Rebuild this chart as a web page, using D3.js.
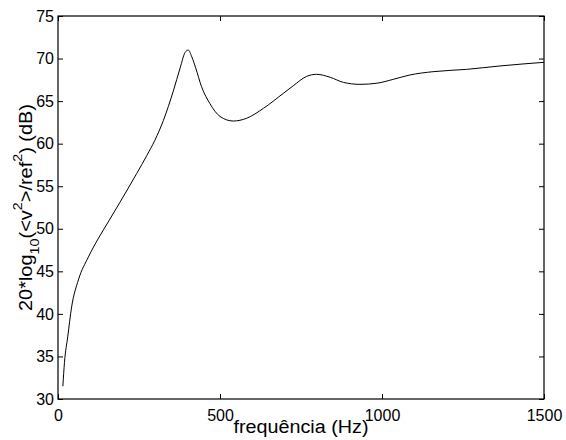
<!DOCTYPE html>
<html>
<head>
<meta charset="utf-8">
<script src="https://cdn.jsdelivr.net/npm/d3@7"></script>
<style>
  body { margin: 0; background: #fff; }
  text { font-family: "Liberation Sans", Arial, sans-serif; }
</style>
</head>
<body>
<svg id="chart-area"></svg>
<script>
const freq = [15, 20, 30, 42, 63, 94, 125, 155, 191, 243, 274, 299, 325, 356, 377, 392, 402, 413, 425, 443, 469, 500, 541, 582, 634, 695, 726, 767, 798, 840, 881, 932, 984, 1035, 1086, 1158, 1261, 1364, 1500]
const level = [31.5, 34.3, 37.3, 40.8, 44.0, 46.7, 48.9, 50.8, 53.1, 56.5, 58.6, 60.4, 62.7, 66.2, 68.9, 70.7, 71.0, 70.2, 68.9, 66.7, 64.7, 63.2, 62.66, 62.98, 64.15, 65.9, 66.8, 67.9, 68.15, 67.8, 67.2, 66.97, 67.1, 67.56, 68.07, 68.46, 68.73, 69.13, 69.56]
const xTicks = [0, 500, 1000, 1500]
const yTicks = [30, 35, 40, 45, 50, 55, 60, 65, 70, 75]

const dataset = freq.map((f, i) => ({ f: f, v: level[i] }))

const svgWidth = 566
const svgHeight = 440
const margin = { left: 58, right: 22, top: 16, bottom: 41 }
const chartWidth = svgWidth - margin.left - margin.right
const chartHeight = svgHeight - margin.top - margin.bottom

const svg = d3.select("#chart-area")
    .attr("width", svgWidth)
    .attr("height", svgHeight)

const chart = svg.append("g")
    .attr("transform", `translate(${margin.left},${margin.top})`)

const xScale = d3.scaleLinear()
    .domain([0, 1500])
    .range([0, chartWidth])

const yScale = d3.scaleLinear()
    .domain([30, 75])
    .range([chartHeight, 0])

// axes, ticks pointing inward like matlab
const xAxis = chart.append("g")
    .attr("transform", `translate(0,${chartHeight})`)
    .call(d3.axisBottom(xScale).tickValues(xTicks).tickFormat(d3.format("d"))
        .tickSize(-5).tickSizeOuter(0).tickPadding(11))

const yAxis = chart.append("g")
    .call(d3.axisLeft(yScale).tickValues(yTicks).tickSize(-5).tickSizeOuter(0).tickPadding(4))

chart.append("g")
    .call(d3.axisTop(xScale).tickValues(xTicks).tickSize(-5).tickSizeOuter(0).tickFormat(""))

chart.append("g")
    .attr("transform", `translate(${chartWidth},0)`)
    .call(d3.axisRight(yScale).tickValues(yTicks).tickSize(-5).tickSizeOuter(0).tickFormat(""))

chart.selectAll(".domain").remove()
chart.selectAll(".tick line").attr("stroke", "#000")
chart.selectAll(".tick text")
    .attr("fill", "#000")
    .style("font-size", "16px")

chart.append("rect")
    .attr("width", chartWidth)
    .attr("height", chartHeight)
    .attr("fill", "none")
    .attr("stroke", "#000")
    .attr("stroke-width", 1.2)

const line = d3.line()
    .x(d => xScale(d.f))
    .y(d => yScale(d.v))
    .curve(d3.curveMonotoneX)

chart.append("path")
    .datum(dataset)
    .attr("d", line)
    .attr("fill", "none")
    .attr("stroke", "#000")
    .attr("stroke-width", 1)

// labels
chart.append("text")
    .attr("x", chartWidth / 2)
    .attr("y", chartHeight + 34)
    .attr("text-anchor", "middle")
    .attr("textLength", 135)
    .attr("lengthAdjust", "spacingAndGlyphs")
    .style("font-size", "18px")
    .text("frequência (Hz)")

const yLabel = chart.append("text")
    .attr("transform", `translate(${-26},${chartHeight / 2}) rotate(-90)`)
    .attr("text-anchor", "middle")
    .attr("textLength", 207)
    .attr("lengthAdjust", "spacingAndGlyphs")
    .style("font-size", "18px")

yLabel.append("tspan").text("20*log")
yLabel.append("tspan").attr("dy", 7).style("font-size", "13px").text("10")
yLabel.append("tspan").attr("dy", -7).text("(<v")
yLabel.append("tspan").attr("dy", -10).style("font-size", "13px").text("2")
yLabel.append("tspan").attr("dy", 10).text(">/ref")
yLabel.append("tspan").attr("dy", -10).style("font-size", "13px").text("2")
yLabel.append("tspan").attr("dy", 10).text(") (dB)")
</script>
</body>
</html>
